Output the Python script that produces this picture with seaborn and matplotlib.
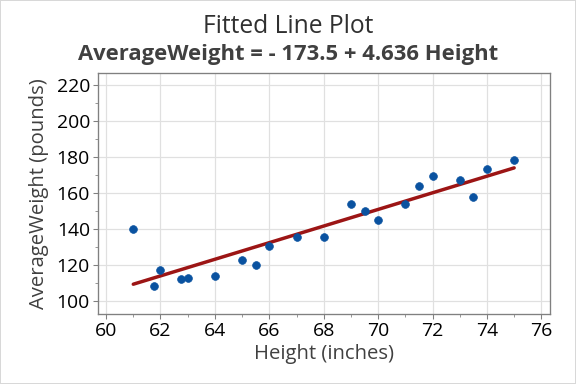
import numpy as np
import pandas as pd
import matplotlib
matplotlib.use("Agg")
import matplotlib.pyplot as plt
import seaborn as sns
from matplotlib.ticker import MultipleLocator

height = [61, 61.75, 62, 62.75, 63, 64, 65, 65.5, 66, 67, 68,
          69, 69.5, 70, 71, 71.5, 72, 73, 73.5, 74, 75]
avg_weight = [140, 108.3, 117.4, 112.2, 112.8, 113.9, 122.8, 120, 130.6, 135.7, 135.7,
              154, 150, 145, 154, 164, 169.4, 167.2, 157.8, 173.3, 178.3]

df = pd.DataFrame({"Height": height, "AverageWeight": avg_weight})

sns.set_style("white")
plt.rcParams['font.family'] = ['Open Sans', 'DejaVu Sans']

fig = plt.figure(figsize=(6, 4), dpi=96)
ax = fig.add_axes([0.170, 0.1815, 0.784, 0.629])

sns.regplot(data=df, x="Height", y="AverageWeight", ci=None, ax=ax,
            scatter_kws=dict(color="#0a52a0", s=34, alpha=1, edgecolor="#0a52a0", linewidths=0.5, zorder=3),
            line_kws=dict(color="#9c1515", lw=2.6, zorder=2))

ax.set_xlim(59.7, 76.3)
ax.set_ylim(92.8, 227)
ax.xaxis.set_major_locator(MultipleLocator(2))
ax.xaxis.set_minor_locator(MultipleLocator(1))
ax.yaxis.set_major_locator(MultipleLocator(20))
ax.yaxis.set_minor_locator(MultipleLocator(10))
ax.grid(True, which="major", color="#e0e0e0", lw=0.9, zorder=0)
ax.set_axisbelow(True)
for s in ax.spines.values():
    s.set_color("#808080")
    s.set_linewidth(1.0)
ax.tick_params(which="major", direction="out", length=4, color="#808080", labelsize=14.5, labelcolor="black", pad=2)
ax.tick_params(which="minor", direction="out", length=2, color="#808080")
ax.tick_params(axis="x", bottom=True, which="both")
ax.tick_params(axis="y", left=True, which="both")

ax.set_xlabel("Height (inches)", fontsize=15.2, color="#404040", labelpad=3)
ax.set_ylabel("AverageWeight (pounds)", fontsize=15.2, color="#404040", labelpad=6)

fig.text(0.5, 0.914, "Fitted Line Plot", ha="center", va="baseline", fontsize=18.5, color="#303030")
fig.text(0.5, 0.844, "AverageWeight = - 173.5 + 4.636 Height", ha="center", va="baseline",
         fontsize=16.5, fontweight="bold", color="#404040")

fig.patches.append(plt.Rectangle((0, 0), 1, 1, transform=fig.transFigure, fill=False,
                                  edgecolor="#d8d8d8", lw=1.5))

fig.savefig("out.png", dpi=96)
